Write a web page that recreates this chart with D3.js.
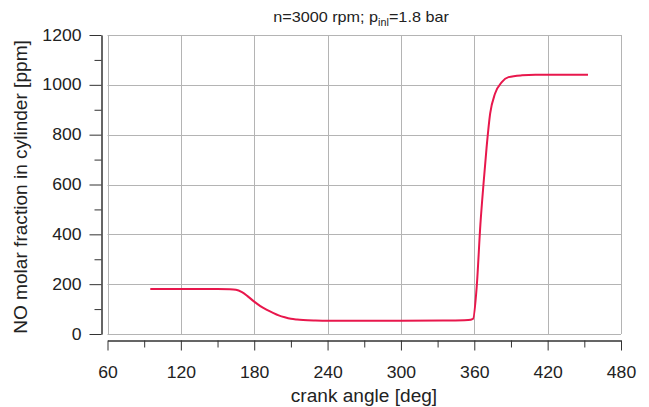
<!DOCTYPE html>
<html>
<head>
<meta charset="utf-8">
<script src="https://cdn.jsdelivr.net/npm/d3@7/dist/d3.min.js"></script>
<style>
  html, body { margin: 0; padding: 0; background: #fff; }
  svg { display: block; font-family: "Liberation Sans", Arial, sans-serif; }
</style>
</head>
<body>
<svg id="chart" width="649" height="407"></svg>
<script>
// NO molar fraction in the cylinder versus crank angle
const crankAngle = [95, 110, 130, 150, 160, 165, 170, 175, 180, 185, 190, 195, 200, 205, 210, 215, 220, 230, 240, 260, 300, 340, 355, 359, 362, 365, 367.5, 370, 373, 377, 382.5, 388, 399, 410, 430, 453];
const noFraction = [181, 181, 181, 181, 180, 178, 168, 150, 130, 112, 98, 86, 75, 67, 61, 58, 56, 54, 53, 53, 53, 54, 56, 61, 191, 440, 600, 745, 885, 965, 1011, 1031, 1038, 1040, 1040, 1040];

const xMajorTicks = [60, 120, 180, 240, 300, 360, 420, 480];
const xMinorTicks = [90, 150, 210, 270, 330, 390, 450];
const yMajorTicks = [0, 200, 400, 600, 800, 1000, 1200];
const yMinorTicks = [100, 300, 500, 700, 900, 1100];

const titleMain = "n=3000 rpm; p";
const titleSub = "inl";
const titleTail = "=1.8 bar";
const xTitle = "crank angle [deg]";
const yTitle = "NO molar fraction in cylinder [ppm]";

const svg = d3.select("#chart");
const plot = { left: 107.5, right: 621, top: 35, bottom: 334 };

const x = d3.scaleLinear().domain([60, 480]).range([plot.left, plot.right]);
const y = d3.scaleLinear().domain([0, 1200]).range([plot.bottom, plot.top]);

// widen glyphs slightly, the lettering is a little broad
function widen(sel, factor) {
  sel.each(function () {
    const len = this.getComputedTextLength();
    d3.select(this).attr("textLength", len * factor).attr("lengthAdjust", "spacingAndGlyphs");
  });
}

// grid (frame lines included)
const grid = svg.append("g").attr("stroke", "#b4b4b4").attr("stroke-width", 1);
grid.selectAll("line.v").data(xMajorTicks).join("line")
  .attr("x1", d => Math.round(x(d)) + 0.5).attr("x2", d => Math.round(x(d)) + 0.5)
  .attr("y1", plot.top).attr("y2", plot.bottom);
grid.selectAll("line.h").data(yMajorTicks).join("line")
  .attr("y1", d => Math.round(y(d)) + 0.5).attr("y2", d => Math.round(y(d)) + 0.5)
  .attr("x1", plot.left).attr("x2", plot.right);

// offset axes
const yAxisX = 101.5;
const xAxisY = 340.5;

function styleAxis(g) {
  g.selectAll("path, line").attr("stroke", "#333").attr("stroke-width", 1);
  g.selectAll("text").attr("fill", "#222").style("font-size", "16px")
    .style("font-family", "'Liberation Sans', Arial, sans-serif");
}

svg.append("g").attr("transform", `translate(${yAxisX},0)`)
  .call(d3.axisLeft(y).tickValues(yMinorTicks).tickSize(7).tickSizeOuter(0).tickFormat(""))
  .call(styleAxis);
const yAx = svg.append("g").attr("transform", `translate(${yAxisX},0)`)
  .call(d3.axisLeft(y).tickValues(yMajorTicks).tickSize(12).tickSizeOuter(0).tickPadding(8).tickFormat(d3.format("d")))
  .call(styleAxis);
widen(yAx.selectAll("text"), 1.1);

svg.append("g").attr("transform", `translate(0,${xAxisY})`)
  .call(d3.axisBottom(x).tickValues(xMinorTicks).tickSize(7).tickSizeOuter(0).tickFormat(""))
  .call(styleAxis);
const xAx = svg.append("g").attr("transform", `translate(0,${xAxisY})`)
  .call(d3.axisBottom(x).tickValues(xMajorTicks).tickSize(10).tickSizeOuter(0).tickPadding(16).tickFormat(d3.format("d")))
  .call(styleAxis);
widen(xAx.selectAll("text"), 1.1);

// curve
const line = d3.line()
  .x((d, i) => x(crankAngle[i]))
  .y(d => y(d))
  .curve(d3.curveMonotoneX);

svg.append("path")
  .datum(noFraction)
  .attr("fill", "none")
  .attr("stroke", "#e8174c")
  .attr("stroke-width", 2)
  .attr("stroke-linejoin", "round")
  .attr("d", line);

// titles
const t = svg.append("text")
  .attr("x", 361)
  .attr("y", 22)
  .attr("text-anchor", "middle")
  .attr("fill", "#222")
  .style("font-size", "15px");
t.append("tspan").text(titleMain);
t.append("tspan").attr("dy", 4).style("font-size", "10px").text(titleSub);
t.append("tspan").attr("dy", -4).text(titleTail);
widen(t, 1.08);

const xt = svg.append("text")
  .attr("x", 364)
  .attr("y", 402)
  .attr("text-anchor", "middle")
  .attr("fill", "#222")
  .style("font-size", "17.5px")
  .text(xTitle);
widen(xt, 1.09);

const yt = svg.append("text")
  .attr("transform", `translate(27,187) rotate(-90)`)
  .attr("text-anchor", "middle")
  .attr("fill", "#222")
  .style("font-size", "17.5px")
  .text(yTitle);
widen(yt, 1.09);
</script>
</body>
</html>
